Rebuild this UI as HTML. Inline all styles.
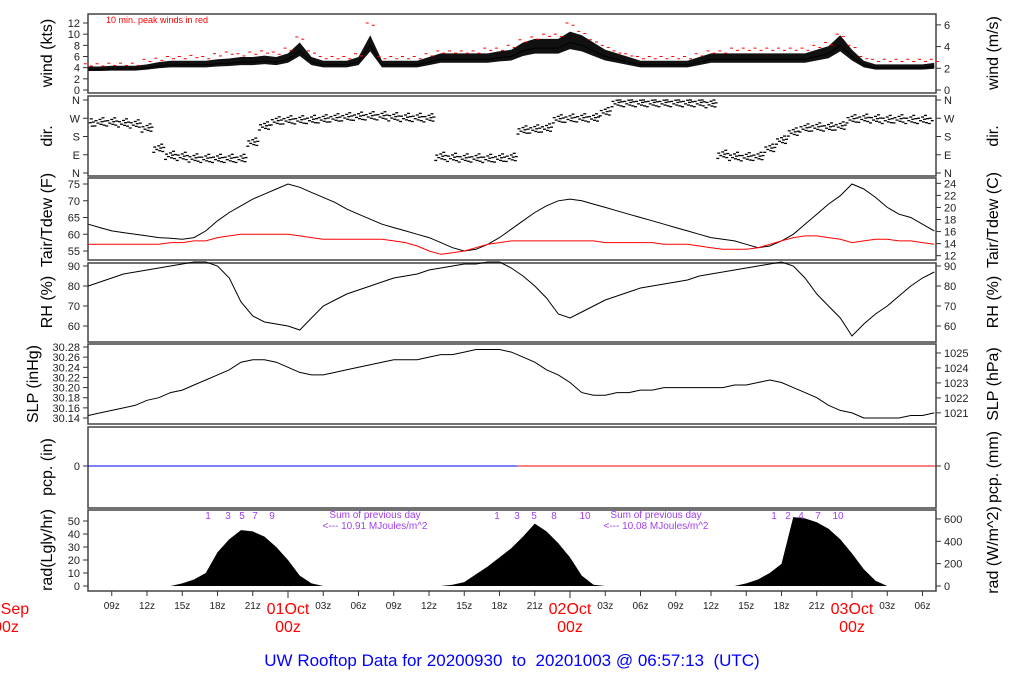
<!DOCTYPE html>
<html><head><meta charset="utf-8"><style>
body{margin:0;background:#fff;width:1024px;height:700px;overflow:hidden}
svg{display:block;font-family:"Liberation Sans",sans-serif}
</style></head><body>
<svg id="c" width="1024" height="700"></svg>
<script>
const hours=[];for(let h=7;h<=79;h++)hours.push(h);
const windMean=[3.7,3.7,3.8, 3.8,3.8,4,4.3,4.5,4.5,4.5,4.5,4.7,4.8, 5,5,5.2,5,5.5,7,5,4.5,4.5,4.5, 5,8,4.5,4.5,4.5,4.5,5,5.5,5.5,5.5, 5.5,5.5,5.8,6,7,7.5,7.5,7.5,8.5,8, 7,6,5.5,5,4.5,4.5,4.5,4.5,4.5,5, 5.5,5.5,5.5,5.5,5.5,5.5,5.5,5.5,5.5,6, 6.5,8,6,4.5,4,4,4,4,4,4.2];
const windGust=[4.7,4.7,4.8, 4.8,4.8,5.5,5.7,6,6,6.2,6,6.5,6.8, 6.5,6.8,7,6.8,7.5,9.5,7,6,6,6, 6.5,12,6,6,6,6,6.5,7,7,7, 7,7.5,7.5,8,9,9.5,10,10,12,10.5, 9,8,7,6.5,6,6,6,6,6,6.5, 7,7,7.5,7.5,7.5,7.5,7.5,7.5,7.5,8, 8.5,10,8,6,5.5,5.5,5.5,5.5,5.5,5.5];
const dirDeg=[245,250,250, 245,240,220,120,85,80,72,70,70,70, 70,150,230,255,260,260,262,265,270,275, 278,280,280,275,272,272,270,80,75,72, 72,70,72,75,210,215,220,265,268,270, 270,300,345,345,345,345,345,345,345,345, 340,90,80,78,80,120,160,200,220,225, 225,230,265,268,265,262,265,262,262,262];
const tempF=[63,62,61, 60.5,60,59.5,59,58.8,58.5,59,61,64,66.5, 68.5,70.5,72,73.5,75,74,72.5,71,69.5,67.5, 66,64.5,63,62,61,60,59,57.5,56,55, 55.5,57,59,61.5,64,66.5,68.5,70,70.5,70, 69,68,67,66,65,64,63,62,61,60, 59,58.5,58,57,56,56.5,58,60,63,66, 69,71.5,75,73.5,71,68,66,65,63,61];
const dewF=[57,57,57, 57,57,57,57,57.5,57.5,58,58,59,59.5, 60,60,60,60,60,59.5,59,58.5,58.5,58.5, 58.5,58.5,58.5,58,57.5,56.5,55,54,54.5,55, 56,57,57.5,58,58,58,58,58,58,58, 58,57.5,57.5,57.5,57.5,57.5,57,57,57,56.5, 56,55.5,55.5,55.5,56,57,58,59,59.5,59.5, 59,58.5,57.5,58,58.5,58.5,58,58,57.5,57];
const rhPct=[80,82,84, 86,87,88,89,90,91,92,92,90,84, 72,65,62,61,60,58,64,70,73,76, 78,80,82,84,85,86,88,89,90,91, 91,92,92,89,85,80,74,66,64,67, 70,73,75,77,79,80,81,82,83,85, 86,87,88,89,90,91,92,90,84,76, 70,64,55,61,66,70,75,80,84,87];
const slpIn=[30.145,30.15,30.155, 30.16,30.165,30.175,30.18,30.19,30.195,30.205,30.215,30.225,30.235, 30.25,30.255,30.255,30.25,30.24,30.23,30.225,30.225,30.23,30.235, 30.24,30.245,30.25,30.255,30.255,30.255,30.26,30.265,30.265,30.27, 30.275,30.275,30.275,30.27,30.26,30.25,30.235,30.225,30.21,30.19, 30.185,30.185,30.19,30.19,30.195,30.195,30.2,30.2,30.2,30.2, 30.2,30.2,30.205,30.205,30.21,30.215,30.21,30.2,30.19,30.18, 30.165,30.155,30.15,30.14,30.14,30.14,30.14,30.145,30.145,30.15];
const radLy=[0,0,0, 0,0,0,0,0,2,5,10,26,36, 43,42,38,30,20,8,2,0,0,0, 0,0,0,0,0,0,0,0,1,3, 9,15,22,29,38,48,42,33,22,8, 1,0,0,0,0,0,0,0,0,0, 0,0,0,2,5,10,17,53,52,49, 44,36,25,13,4,0,0,0,0,0];
const xTickHours=[9,12,15,18,21,27,30,33,36,39,42,45,51,54,57,60,63,66,69,75,78];
const xTickLabels=["09z","12z","15z","18z","21z","03z","06z","09z","12z","15z","18z","21z","03z","06z","09z","12z","15z","18z","21z","03z","06z"];

const NS="http://www.w3.org/2000/svg",svg=document.getElementById('c');
function el(t,a,txt,p){const e=document.createElementNS(NS,t);for(const k in a)e.setAttribute(k,a[k]);if(txt!=null)e.textContent=txt;(p||svg).appendChild(e);return e;}
const X=h=>288+(h-24)*11.75, L=88, R=936;
function lin(v0,y0,v1,y1){return v=>y0+(v-v0)*(y1-y0)/(v1-v0);}
function frame(top,bot,name){const r=el('rect',{x:L,y:top,width:R-L,height:bot-top,fill:'none',stroke:'#444','stroke-width':1.5});}
function ticks(side,vals,labels,Y,cls){vals.forEach((v,i)=>{const y=Y(v);const x=side=='l'?L:R;const d=side=='l'?-5:5;
 el('line',{x1:x,y1:y,x2:x+d,y2:y,stroke:'#333'});
 const t=el('text',{x:x+(side=='l'?-8:8),y:y+4,'font-size':11,'text-anchor':side=='l'?'end':'start',fill:'#222'},labels[i]);
 });}
function ytitle(x,ymid,txt,name){const t=el('text',{x:x,y:ymid,'font-size':16,'text-anchor':'middle',transform:`rotate(-90 ${x} ${ymid})`},txt);}
function line(arr,Y,color,name){const p=arr.map((v,i)=>X(hours[i]).toFixed(1)+','+Y(v).toFixed(1)).join(' ');const e=el('polyline',{points:p,fill:'none',stroke:color,'stroke-width':1});}

// Panel 1 wind
frame(14,93,'wind-panel');const YW=lin(0,90,12,23);
ticks('l',[0,2,4,6,8,10,12],['0','2','4','6','8','10','12'],YW,'wind-kts-tick');
const YM=v=>YW(v*1.944);ticks('r',[0,2,4,6],['0','2','4','6'],YM,'wind-ms-tick');
ytitle(52,53,'wind (kts)','wind-kts-title');ytitle(998,53,'wind (m/s)','wind-ms-title');
{const hi=windMean.map(v=>v+0.3*(v-2)),lo=windMean.map(v=>v-0.18*(v-2));
 const p=hi.map((v,i)=>X(hours[i])+','+YW(v)).concat(lo.map((v,i)=>X(hours[i])+','+YW(v)).reverse()).join(' ');
 const b=el('polygon',{points:p,fill:'#111'});}
line(windMean,YW,'#000','wind-mean-line');
windGust.forEach((g,i)=>{for(const o of [-3,3]){const d=el('line',{x1:X(hours[i])+o-1.5,x2:X(hours[i])+o+1.5,y1:YW(g+(o>0?-0.4:0)),y2:YW(g+(o>0?-0.4:0)),stroke:'#f00','stroke-width':1});}});
{const t=el('text',{x:106,y:23,'font-size':9,fill:'#f00'},'10 min. peak winds in red');}

// Panel 2 dir
frame(96,176,'direction-panel');const YD=lin(0,173,360,100);
const dl=['N','E','S','W','N'];ticks('l',[0,90,180,270,360],dl,YD,'dir-tick-left');ticks('r',[0,90,180,270,360],dl,YD,'dir-tick-right');
ytitle(52,136,'dir.','dir-title');ytitle(998,136,'dir.','dir-title-right');
dirDeg.forEach((d,i)=>{[[-5,-18],[-4,8],[-2,-4],[0,14],[1,-10],[2,3],[3,22],[4,-14],[5,6]].forEach(([o,dv])=>{const x=X(hours[i])+o;if(x<L+2||x>R-2)return;
 const v=Math.min(360,Math.max(0,d+dv));
 const m=el('line',{x1:x-1.5,x2:x+1.5,y1:YD(v),y2:YD(v),stroke:'#000','stroke-width':1.3});});});

// Panel 3 temp
frame(178,260,'temp-panel');const YT=lin(55,251,75,184);
ticks('l',[55,60,65,70,75],['55','60','65','70','75'],YT,'temp-f-tick');
const YC=c=>YT(c*9/5+32);ticks('r',[12,14,16,18,20,22,24],['12','14','16','18','20','22','24'],YC,'temp-c-tick');
ytitle(52,220,'Tair/Tdew (F)','temp-f-title');ytitle(998,220,'Tair/Tdew (C)','temp-c-title');
line(tempF,YT,'#000','air-temp-line');line(dewF,YT,'#f00','dewpoint-line');

// Panel 4 RH
frame(263,342,'rh-panel');const YR=lin(60,326,90,266);
ticks('l',[60,70,80,90],['60','70','80','90'],YR,'rh-tick');ticks('r',[60,70,80,90],['60','70','80','90'],YR,'rh-tick-right');
ytitle(52,302,'RH (%)','rh-title');ytitle(998,302,'RH (%)','rh-title-right');
line(rhPct,YR,'#000','rh-line');

// Panel 5 SLP
frame(344,424,'slp-panel');const YS=lin(30.14,418,30.28,347);
const sv=[30.14,30.16,30.18,30.2,30.22,30.24,30.26,30.28];ticks('l',sv,sv.map(v=>v.toFixed(2)),YS,'slp-in-tick');
const YH=h=>YS(h*0.02953);ticks('r',[1021,1022,1023,1024,1025],['1021','1022','1023','1024','1025'],YH,'slp-hpa-tick');
ytitle(38,384,'SLP (inHg)','slp-in-title');ytitle(998,384,'SLP (hPa)','slp-hpa-title');
line(slpIn,YS,'#000','slp-line');

// Panel 6 pcp
frame(427,508,'pcp-panel');
ticks('l',[0],['0'],()=>466,'pcp-tick');ticks('r',[0],['0'],()=>466,'pcp-tick-right');
ytitle(52,467,'pcp. (in)','pcp-in-title');ytitle(998,467,'pcp. (mm)','pcp-mm-title');
{let a=el('line',{x1:L,x2:517,y1:466,y2:466,stroke:'#00f'});
 a=el('line',{x1:517,x2:R,y1:466,y2:466,stroke:'#f00'});}

// Panel 7 rad
frame(510,591,'rad-panel');const YA=lin(0,586,50,521);
ticks('l',[0,10,20,30,40,50],['0','10','20','30','40','50'],YA,'rad-ly-tick');
const YWm=w=>YA(w/11.63);ticks('r',[0,200,400,600],['0','200','400','600'],YWm,'rad-wm2-tick');
ytitle(52,550,'rad(Lgly/hr)','rad-ly-title');ytitle(998,550,'rad (W/m^2)','rad-wm2-title');
{const p=[X(hours[0])+','+YA(0)].concat(radLy.map((v,i)=>X(hours[i])+','+YA(v)),[X(hours[hours.length-1])+','+YA(0)]).join(' ');
 const r=el('polygon',{points:p,fill:'#000'});}
[[208,'1'],[228,'3'],[242,'5'],[255,'7'],[272,'9'],[497,'1'],[517,'3'],[534,'5'],[554,'8'],[585,'10'],[774,'1'],[788,'2'],[801,'4'],[818,'7'],[838,'10']].forEach(([x,s])=>{const t=el('text',{x:x,y:519,'font-size':10,fill:'#a040f0','text-anchor':'middle'},s);});
[[375,'10.91'],[656,'10.08']].forEach(([x,v])=>{let t=el('text',{x:x,y:518,'font-size':10,fill:'#a040f0','text-anchor':'middle'},'Sum of previous day');
 t=el('text',{x:x,y:529,'font-size':10,fill:'#a040f0','text-anchor':'middle'},'<--- '+v+' MJoules/m^2');});

// x axis
xTickLabels.forEach((s,i)=>{const x=X(xTickHours[i]);el('line',{x1:x,x2:x,y1:591,y2:596,stroke:'#333'});
 const t=el('text',{x:x,y:609,'font-size':10,'text-anchor':'middle',fill:'#222'},s);});
[[0,'30Sep'],[24,'01Oct'],[48,'02Oct'],[72,'03Oct']].forEach(([h,s])=>{const x=X(h);if(x>L)el('line',{x1:x,x2:x,y1:591,y2:598,stroke:'#333'});
 let t=el('text',{x:x,y:614,'font-size':16,'text-anchor':'middle',fill:'#f00'},s);
 t=el('text',{x:x,y:632,'font-size':16,'text-anchor':'middle',fill:'#f00'},'00z');});
{const t=el('text',{x:512,y:666,'font-size':17,'text-anchor':'middle',fill:'#00f',style:'white-space:pre'},'UW Rooftop Data for 20200930  to  20201003 @ 06:57:13  (UTC)');}
</script>
</body></html>
